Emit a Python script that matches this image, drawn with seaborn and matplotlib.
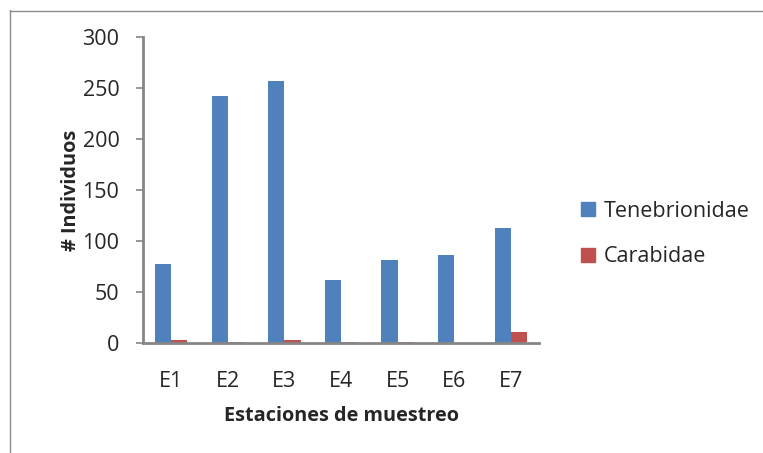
import matplotlib
matplotlib.use("Agg")
import matplotlib.pyplot as plt
from matplotlib.lines import Line2D
import seaborn as sns
import pandas as pd

# Sampling stations and individuals counted per family
estaciones = ["E1", "E2", "E3", "E4", "E5", "E6", "E7"]
tenebrionidae = [77, 242, 257, 62, 81, 86, 113]
carabidae = [3, 1, 3, 1, 1, 0, 11]
familias = ["Tenebrionidae", "Carabidae"]
y_ticks = [0, 50, 100, 150, 200, 250, 300]

df = pd.DataFrame({
    "Estación": estaciones * 2,
    "Individuos": tenebrionidae + carabidae,
    "Familia": [familias[0]] * len(estaciones) + [familias[1]] * len(estaciones),
})

sns.set_theme(style="white")
plt.rcParams["font.family"] = ["Open Sans", "DejaVu Sans"]

FS = 15.5        # tick labels and legend
FS_TITLE = 14.3  # bold axis titles
W, H = 763, 453
fig = plt.figure(figsize=(W / 100, H / 100), dpi=100)
ax = fig.add_axes([143 / W, 1 - 343 / H, (539 - 143) / W, (343 - 37) / H])

palette = {"Tenebrionidae": "#4F81BD", "Carabidae": "#C0504D"}
sns.barplot(data=df, x="Estación", y="Individuos", hue="Familia",
            hue_order=familias, palette=palette, width=0.57, gap=0,
            saturation=1, ax=ax, legend=False, edgecolor="none")

ax.set_xlim(-0.5, len(estaciones) - 0.5)
ax.set_ylim(0, 300)
ax.set_yticks(y_ticks)
ax.set_yticklabels([str(v) for v in y_ticks], fontsize=FS)
ax.tick_params(axis="x", length=0, labelsize=FS, pad=20)
ax.tick_params(axis="y", left=True, length=5, width=1.2, color="#868686",
               direction="out", pad=12)

for side in ["top", "right"]:
    ax.spines[side].set_visible(False)
for side in ["left", "bottom"]:
    ax.spines[side].set_color("#868686")
    ax.spines[side].set_linewidth(2)

ax.set_xlabel("Estaciones de muestreo", fontsize=FS_TITLE, fontweight="bold",
              labelpad=10)
ax.set_ylabel("# Individuos", fontsize=FS_TITLE, fontweight="bold",
              labelpad=1)

handles = [plt.Rectangle((0, 0), 1, 1, color=palette[f]) for f in familias]
fig.legend(handles, familias, loc="center left",
           bbox_to_anchor=(562 / W, 1 - 234 / H), frameon=False,
           fontsize=FS, handlelength=0.65, handleheight=0.65,
           handletextpad=0.4, labelspacing=1.15)

# Chart area border
fig.add_artist(Line2D([9.5 / W, 9.5 / W], [0, 1 - 10 / H],
                      transform=fig.transFigure, color="#8c8c8c", lw=1))
fig.add_artist(Line2D([9.5 / W, 1], [1 - 10.5 / H, 1 - 10.5 / H],
                      transform=fig.transFigure, color="#8c8c8c", lw=1))

fig.savefig("out.png", dpi=100)
